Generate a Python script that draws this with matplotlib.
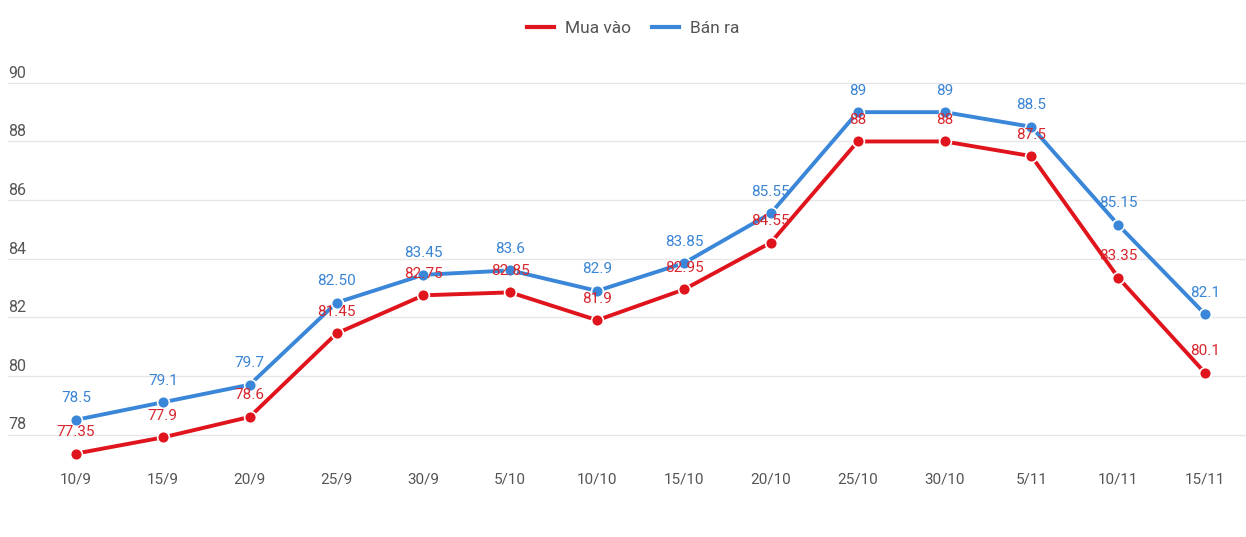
import matplotlib.pyplot as plt
from matplotlib.lines import Line2D
from matplotlib.transforms import blended_transform_factory

plt.rcParams['font.family'] = ['Roboto', 'DejaVu Sans']

dates = ['10/9', '15/9', '20/9', '25/9', '30/9', '5/10', '10/10', '15/10',
         '20/10', '25/10', '30/10', '5/11', '10/11', '15/11']
mua_vao = [77.35, 77.9, 78.6, 81.45, 82.75, 82.85, 81.9, 82.95,
           84.55, 88, 88, 87.5, 83.35, 80.1]
ban_ra = [78.5, 79.1, 79.7, 82.5, 83.45, 83.6, 82.9, 83.85,
          85.55, 89, 89, 88.5, 85.15, 82.1]
mua_vao_labels = ['77.35', '77.9', '78.6', '81.45', '82.75', '82.85', '81.9', '82.95',
                  '84.55', '88', '88', '87.5', '83.35', '80.1']
ban_ra_labels = ['78.5', '79.1', '79.7', '82.50', '83.45', '83.6', '82.9', '83.85',
                 '85.55', '89', '89', '88.5', '85.15', '82.1']
yticks = [78, 80, 82, 84, 86, 88, 90]

red = '#e0141c'
blue = '#3a86d8'
red_txt = '#d8262e'
blue_txt = '#3a84d4'

fig = plt.figure(figsize=(12.46, 5.37), dpi=100)
ax = fig.add_axes([8 / 1246, 0.1363, 1 - 8 / 1246, 0.873 - 0.1363])

x = list(range(len(dates)))
ax.plot(x, mua_vao, color=red, lw=2.8, marker='o', ms=8.5,
        markeredgecolor='white', markeredgewidth=1.2, zorder=3)
ax.plot(x, ban_ra, color=blue, lw=2.8, marker='o', ms=8.5,
        markeredgecolor='white', markeredgewidth=1.2, zorder=4)

for xi, v, s in zip(x, mua_vao, mua_vao_labels):
    ax.annotate(s, (xi, v), xytext=(0, 15.5), textcoords='offset points',
                ha='center', va='center', fontsize=11, color=red_txt, zorder=5)
for xi, v, s in zip(x, ban_ra, ban_ra_labels):
    ax.annotate(s, (xi, v), xytext=(0, 15.5), textcoords='offset points',
                ha='center', va='center', fontsize=11, color=blue_txt, zorder=5)

ax.set_xlim(-0.783, 13.47)
ax.set_ylim(77, 90.5)

for v in yticks:
    ax.axhline(v, color='#e6e6e6', lw=1, zorder=1)
trans = blended_transform_factory(ax.transAxes, ax.transData)
for v in yticks:
    ax.annotate(str(v), (0, v), xycoords=trans, xytext=(0, 1.5),
                textcoords='offset points', ha='left', va='bottom',
                fontsize=11.5, color='#555555')

ax.set_yticks([])
ax.set_xticks(x)
ax.set_xticklabels(dates, fontsize=11, color='#555555')
ax.tick_params(axis='x', length=0, pad=6)
for sp in ax.spines.values():
    sp.set_visible(False)

handles = [Line2D([], [], color=red, lw=3), Line2D([], [], color=blue, lw=3)]
fig.legend(handles, ['Mua vào', 'Bán ra'], loc='center', bbox_to_anchor=(0.508, 0.947),
           ncol=2, frameon=False, fontsize=12.5, labelcolor='#555555',
           handlelength=1.6, columnspacing=1.2, handletextpad=0.6)

fig.savefig('out.png', dpi=100)
